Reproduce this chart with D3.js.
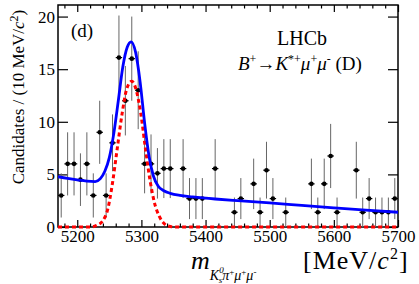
<!DOCTYPE html>
<html>
<head>
<meta charset="utf-8">
<script src="https://cdn.jsdelivr.net/npm/d3@7"></script>
<style>
body { margin: 0; background: #fff; }
text { font-family: "Liberation Serif", "Times New Roman", serif; fill: #000; }
.axis path { display: none; }
.axis line { stroke: #000; stroke-width: 1.2; }
</style>
</head>
<body>
<svg id="chart" width="419" height="284"></svg>
<script>
// bin centres (10 MeV bins), only bins with entries
var massBins = [5175, 5185, 5195, 5205, 5215, 5225, 5235, 5245, 5255, 5265,
	5275, 5285, 5295, 5305, 5315, 5325, 5335, 5345, 5365, 5375,
	5385, 5395, 5415, 5445, 5455, 5475, 5485, 5495, 5505, 5525,
	5565, 5575, 5585, 5595, 5605, 5635, 5645, 5655, 5665, 5675,
	5685, 5695];
var candidates = [3.0, 6.0, 6.0, 4.5, 6.0, 3.0, 9.0, 3.0, 8.0, 16.1,
	12.0, 16.0, 13.0, 6.0, 6.0, 5.1, 5.55, 5.55, 5.55, 2.7,
	2.7, 2.7, 5.55, 1.4, 2.7, 4.1, 1.4, 5.4, 2.7, 1.4,
	4.1, 1.4, 4.1, 6.75, 1.4, 5.4, 1.4, 2.7, 1.4, 1.4,
	1.4, 2.7];
var candErr = [2.1, 3.0, 3.0, 2.5, 3.0, 2.1, 3.0, 2.1, 2.7, 4.0,
	3.3, 4.0, 3.7, 2.8, 2.8, 2.4, 2.8, 2.8, 2.8, 1.95,
	1.95, 1.95, 2.8, 1.4, 1.95, 2.4, 1.4, 2.7, 1.95, 1.4,
	2.4, 1.4, 2.4, 3.05, 1.4, 2.7, 1.4, 1.95, 1.4, 1.4,
	1.4, 1.95];

// total fit
var fitMass = [5170, 5185, 5200, 5215, 5228, 5236, 5243, 5250, 5257, 5264,
	5271, 5278, 5284, 5291, 5298, 5305, 5312, 5319, 5326, 5335,
	5345, 5360, 5380, 5415, 5450, 5500, 5550, 5600, 5650, 5700];
var fitTotal = [4.78, 4.62, 4.48, 4.36, 4.32, 4.6, 5.3, 6.6, 8.9, 12.0,
	15.2, 17.1, 17.6, 16.6, 13.8, 9.9, 6.7, 4.8, 3.9, 3.45,
	3.2, 3.0, 2.86, 2.66, 2.5, 2.3, 2.05, 1.82, 1.6, 1.4];

// signal component
var sigMass = [5170, 5220, 5230, 5240, 5248, 5255, 5262, 5270, 5277, 5285,
	5292, 5299, 5306, 5313, 5320, 5328, 5336, 5345, 5355, 5700];
var sigYield = [0, 0, 0.15, 0.6, 1.8, 4.2, 7.3, 10.8, 13.1, 13.85,
	13.0, 10.8, 7.6, 4.6, 2.4, 1.0, 0.3, 0.05, 0, 0];

var xTicks = [5200, 5300, 5400, 5500, 5600, 5700];
var yTicks = [0, 5, 10, 15, 20];

var L = 58, R = 398, T = 5, B = 227;
var svg = d3.select("#chart");

var x = d3.scaleLinear().domain([5170, 5700]).range([L, R]);
var y = d3.scaleLinear().domain([0, 21.1]).range([B, T]);

// clip only left/right so the zero line stays visible on the frame
svg.append("clipPath").attr("id", "plotclip")
	.append("rect").attr("x", L).attr("y", 0).attr("width", R - L).attr("height", 240);

// axes, ticks point inwards
var minorX = d3.range(5180, 5700, 20).filter(function(v) { return v % 100 !== 0; });

svg.append("g").attr("class", "axis")
	.attr("transform", "translate(0," + B + ")")
	.call(d3.axisBottom(x).tickValues(xTicks).tickSizeInner(-7).tickSizeOuter(0).tickPadding(3)
		.tickFormat(d3.format("d")))
	.selectAll("text").style("font-size", "17px").style("font-family", "Liberation Serif");
svg.append("g").attr("class", "axis")
	.attr("transform", "translate(0," + B + ")")
	.call(d3.axisBottom(x).tickValues(minorX).tickSizeInner(-3.5).tickSizeOuter(0).tickFormat(""));
svg.append("g").attr("class", "axis")
	.attr("transform", "translate(0," + T + ")")
	.call(d3.axisTop(x).tickValues(xTicks).tickSizeInner(-7).tickSizeOuter(0).tickFormat(""));
svg.append("g").attr("class", "axis")
	.attr("transform", "translate(0," + T + ")")
	.call(d3.axisTop(x).tickValues(minorX).tickSizeInner(-3.5).tickSizeOuter(0).tickFormat(""));

svg.append("g").attr("class", "axis")
	.attr("transform", "translate(" + L + ",0)")
	.call(d3.axisLeft(y).tickValues(yTicks).tickSizeInner(-10).tickSizeOuter(0).tickPadding(3))
	.selectAll("text").style("font-size", "17px").style("font-family", "Liberation Serif");
svg.append("g").attr("class", "axis")
	.attr("transform", "translate(" + R + ",0)")
	.call(d3.axisRight(y).tickValues(yTicks).tickSizeInner(-10).tickSizeOuter(0).tickFormat(""));

// frame
svg.append("rect")
	.attr("x", L).attr("y", T).attr("width", R - L).attr("height", B - T)
	.attr("fill", "none").attr("stroke", "#000").attr("stroke-width", 1.5);

// data points with error bars
var pts = svg.append("g");
massBins.forEach(function(m, i) {
	var cx = x(m), cy = y(candidates[i]);
	pts.append("line")
		.attr("x1", cx).attr("x2", cx)
		.attr("y1", y(candidates[i] + candErr[i]))
		.attr("y2", Math.min(B, y(candidates[i] - candErr[i])))
		.attr("stroke", "#666").attr("stroke-width", 1);
	pts.append("line")
		.attr("x1", x(m - 5)).attr("x2", x(m + 5))
		.attr("y1", cy).attr("y2", cy)
		.attr("stroke", "#000").attr("stroke-width", 1.2);
	pts.append("circle")
		.attr("cx", cx).attr("cy", cy).attr("r", 2.3)
		.attr("fill", "#000");
});

// curves
var fitLine = d3.line()
	.x(function(d) { return x(d[0]); })
	.y(function(d) { return y(d[1]); })
	.curve(d3.curveMonotoneX);

svg.append("path")
	.datum(d3.zip(sigMass, sigYield))
	.attr("clip-path", "url(#plotclip)")
	.attr("d", fitLine)
	.attr("fill", "none")
	.attr("stroke", "#ff0000")
	.attr("stroke-width", 3)
	.attr("stroke-dasharray", "4,3");

svg.append("path")
	.datum(d3.zip(fitMass, fitTotal))
	.attr("clip-path", "url(#plotclip)")
	.attr("d", fitLine)
	.attr("fill", "none")
	.attr("stroke", "#0000ff")
	.attr("stroke-width", 2.8);

// labels
svg.append("text").attr("x", 71).attr("y", 37).style("font-size", "19px").text("(d)");
svg.append("text").attr("x", 277).attr("y", 45).style("font-size", "20px").text("LHCb");

var dec = svg.append("text").attr("x", 238).attr("y", 70).style("font-size", "19px");
dec.append("tspan").style("font-style", "italic").text("B");
dec.append("tspan").attr("dy", -7).style("font-size", "12px").text("+");
dec.append("tspan").attr("dy", 7).text("\u2192");
dec.append("tspan").style("font-style", "italic").text("K");
dec.append("tspan").attr("dy", -7).style("font-size", "12px").text("*+");
dec.append("tspan").attr("dy", 7).style("font-style", "italic").text("\u03bc");
dec.append("tspan").attr("dy", -7).style("font-size", "12px").text("+");
dec.append("tspan").attr("dy", 7).style("font-style", "italic").text("\u03bc");
dec.append("tspan").attr("dy", -7).style("font-size", "12px").text("-");
dec.append("tspan").attr("dy", 7).text(" (D)");

var yl = svg.append("text")
	.attr("transform", "translate(24,97) rotate(-90)")
	.attr("text-anchor", "middle")
	.style("font-size", "17px");
yl.append("tspan").text("Candidates / (10 MeV/");
yl.append("tspan").style("font-style", "italic").text("c");
yl.append("tspan").attr("dy", -6).style("font-size", "12px").text("2");
yl.append("tspan").attr("dy", 6).text(")");

var xl = svg.append("text").attr("x", 191).attr("y", 269).style("font-size", "26px");
xl.append("tspan").style("font-style", "italic").text("m");
xl.append("tspan").attr("dy", 11).style("font-size", "14px").style("font-style", "italic").text("K");
xl.append("tspan").attr("dy", -7).style("font-size", "9px").style("font-style", "italic").text("0");
xl.append("tspan").attr("dx", -5).attr("dy", 10).style("font-size", "9px").style("font-style", "italic").text("s");
xl.append("tspan").attr("dy", -3).style("font-size", "14px").style("font-style", "italic").text("\u03c0");
xl.append("tspan").attr("dy", -5).style("font-size", "9px").text("+");
xl.append("tspan").attr("dy", 5).style("font-size", "14px").style("font-style", "italic").text("\u03bc");
xl.append("tspan").attr("dy", -5).style("font-size", "9px").text("+");
xl.append("tspan").attr("dy", 5).style("font-size", "14px").style("font-style", "italic").text("\u03bc");
xl.append("tspan").attr("dy", -5).style("font-size", "9px").text("-");
var xu = svg.append("text").attr("x", 303).attr("y", 269)
	.style("font-size", "26px").style("letter-spacing", "1px");
xu.append("tspan").text("[MeV/");
xu.append("tspan").style("font-style", "italic").text("c");
xu.append("tspan").attr("dy", -10).style("font-size", "16px").text("2");
xu.append("tspan").attr("dy", 10).text("]");
</script>
</body>
</html>
